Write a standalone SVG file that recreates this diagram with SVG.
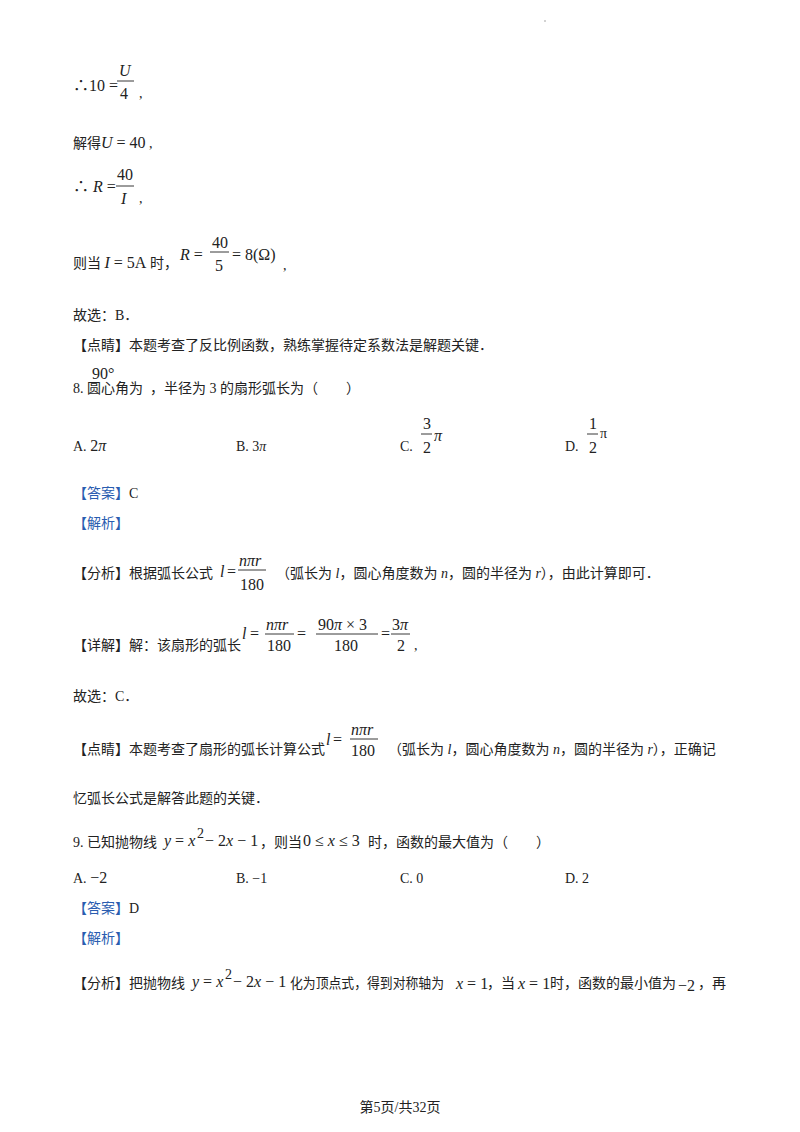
<svg xmlns="http://www.w3.org/2000/svg" width="800" height="1132" viewBox="0 0 800 1132">
<style>
text{font-family:"Liberation Serif","Noto Sans CJK SC",serif;font-size:14px;fill:#222}
.m{font-size:16px}
.i{font-style:italic}
.b{fill:#2a5db0}
line{stroke:#222;stroke-width:0.9}
</style>
<rect width="800" height="1132" fill="#fff"/>
<circle cx="545" cy="21" r="0.8" fill="#999"/>
<text class="m" x="73" y="91">∴10 =</text>
<text class="m i" x="119" y="76">U</text><line x1="117" y1="81" x2="134" y2="81"/><text class="m" x="120" y="99">4</text><text x="139" y="98">,</text>
<text x="73" y="148">解得<tspan class="m i">U</tspan><tspan class="m"> = 40</tspan> ,</text>
<text class="m" x="73" y="192">∴ <tspan class="i">R</tspan> =</text>
<text class="m" x="117" y="180">40</text><line x1="116" y1="186" x2="134" y2="186"/><text class="m i" x="121" y="204">I</text><text x="139" y="203">,</text>
<text x="73" y="268">则当 <tspan class="m i">I</tspan><tspan class="m"> = 5A</tspan> 时，</text>
<text class="m" x="180" y="260"><tspan class="i">R</tspan> =</text>
<text class="m" x="212" y="248">40</text><line x1="210" y1="252" x2="229" y2="252"/><text class="m" x="215" y="271">5</text>
<text class="m" x="232" y="260">= 8(Ω)</text><text x="283" y="270">,</text>
<text x="73" y="320">故选：B．</text>
<text x="73" y="350">【点睛】本题考查了反比例函数，熟练掌握待定系数法是解题关键．</text>
<text x="73" y="393">8. 圆心角为</text><text class="m" x="92" y="379">90°</text>
<text x="150" y="393">，半径为 3 的扇形弧长为（　　）</text>
<text x="73" y="451">A.  <tspan class="m">2<tspan class="i">π</tspan></tspan></text>
<text x="236" y="451">B.  3<tspan class="i">π</tspan></text>
<text x="400" y="451">C.</text><text class="m" x="423" y="429">3</text><line x1="421" y1="434" x2="432" y2="434"/><text class="m" x="423" y="453">2</text><text class="m i" x="434" y="441">π</text>
<text x="565" y="451">D.</text><text class="m" x="589" y="429">1</text><line x1="587" y1="434" x2="598" y2="434"/><text class="m" x="589" y="453">2</text><text x="600" y="438">π</text>
<text class="b" x="73" y="498">【答案】<tspan fill="#222">C</tspan></text>
<text class="b" x="73" y="528">【解析】</text>
<text x="73" y="578">【分析】根据弧长公式</text><text class="m i" x="220" y="577">l</text><text class="m" x="227" y="577">=</text>
<text class="m i" x="239" y="566">nπr</text><line x1="238" y1="570" x2="266" y2="570"/><text class="m" x="240" y="590">180</text>
<text x="276" y="578">（弧长为 <tspan class="i">l</tspan>，圆心角度数为 <tspan class="i">n</tspan>，圆的半径为 <tspan class="i">r</tspan>），由此计算即可．</text>
<text x="73" y="650">【详解】解：该扇形的弧长</text>
<text class="m i" x="242" y="639">l</text><text class="m" x="250" y="639">=</text>
<text class="m i" x="266" y="630">nπr</text><line x1="265" y1="634" x2="294" y2="634"/><text class="m" x="267" y="651">180</text>
<text class="m" x="297" y="639">=</text>
<text class="m" x="318" y="630">90<tspan class="i">π</tspan> × 3</text><line x1="316" y1="634" x2="378" y2="634"/><text class="m" x="334" y="651">180</text>
<text class="m" x="381" y="639">=</text>
<text class="m" x="392" y="630">3<tspan class="i">π</tspan></text><line x1="391" y1="634" x2="410" y2="634"/><text class="m" x="397" y="651">2</text>
<text x="414" y="650">,</text>
<text x="73" y="701">故选：C．</text>
<text x="73" y="754">【点睛】本题考查了扇形的弧长计算公式</text><text class="m i" x="326" y="745">l</text><text class="m" x="333" y="745">=</text>
<text class="m i" x="351" y="735">nπr</text><line x1="350" y1="739" x2="378" y2="739"/><text class="m" x="351" y="756">180</text>
<text x="388" y="754">（弧长为 <tspan class="i">l</tspan>，圆心角度数为 <tspan class="i">n</tspan>，圆的半径为 <tspan class="i">r</tspan>），正确记</text>
<text x="73" y="803">忆弧长公式是解答此题的关键．</text>
<text x="73" y="847">9. 已知抛物线</text>
<text class="m i" x="164" y="846">y<tspan font-style="normal"> = </tspan>x</text><text x="197" y="838" font-size="10">2</text><text class="m" x="205" y="846">− 2<tspan class="i">x</tspan> − 1</text>
<text x="260" y="847">，则当</text><text class="m" x="303" y="846">0 ≤ <tspan class="i">x</tspan> ≤ 3</text>
<text x="368" y="847">时，函数的最大值为（　　）</text>
<text x="73" y="883">A.  <tspan class="m">−2</tspan></text>
<text x="236" y="883">B.  −1</text>
<text x="400" y="883">C.  0</text>
<text x="565" y="883">D.  2</text>
<text class="b" x="73" y="913">【答案】<tspan fill="#222">D</tspan></text>
<text class="b" x="73" y="943">【解析】</text>
<text x="73" y="988">【分析】把抛物线</text>
<text class="m i" x="192" y="987">y<tspan font-style="normal"> = </tspan>x</text><text x="225" y="979" font-size="10">2</text><text class="m" x="233" y="987">− 2<tspan class="i">x</tspan> − 1</text>
<text x="290" y="988" textLength="154" lengthAdjust="spacingAndGlyphs">化为顶点式，得到对称轴为</text><text class="m" x="456" y="989"><tspan class="i">x</tspan> = 1</text>
<text x="487" y="988">，当</text><text class="m" x="518" y="989"><tspan class="i">x</tspan> = 1</text>
<text x="550" y="988">时，函数的最小值为</text><text class="m" x="678" y="991">−2</text><text x="698" y="988">，再</text>
<text x="400" y="1112" text-anchor="middle" font-size="12">第5页/共32页</text>
</svg>
